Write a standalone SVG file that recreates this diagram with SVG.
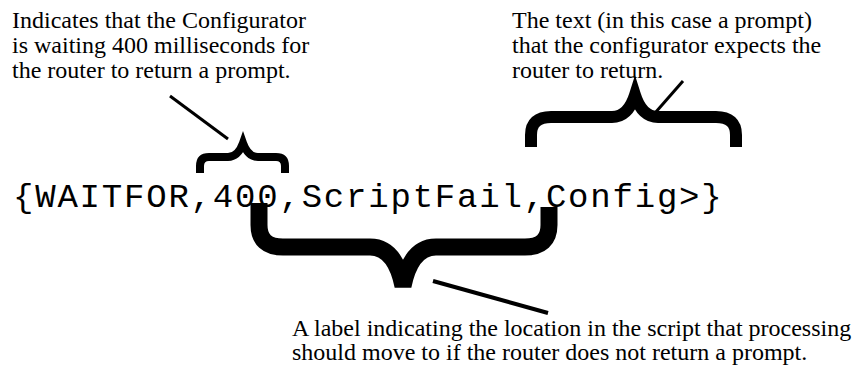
<svg xmlns="http://www.w3.org/2000/svg" width="854" height="375" viewBox="0 0 854 375">
<style>
.note{font-family:"Liberation Serif","Times New Roman",serif;font-size:24px;fill:#000}
.code{font-family:"Liberation Mono","Courier New",monospace;font-size:34px;letter-spacing:1.8px;fill:#000}
.brace{fill:none;stroke:#000;stroke-miterlimit:10;stroke-linecap:butt}
.lead{stroke:#000;fill:none}
</style>
<rect width="854" height="375" fill="#fff"/>
<g id="code">
<text class="code" x="13" y="207">{WAITFOR,400,ScriptFail,Config&gt;}</text>
</g>
<g id="note-wait">
<text class="note" x="12" y="28">Indicates that the Configurator</text>
<text class="note" x="12" y="53">is waiting 400 milliseconds for</text>
<text class="note" x="12" y="78">the router to return a prompt.</text>
</g>
<g id="note-text">
<text class="note" x="512" y="28">The text (in this case a prompt)</text>
<text class="note" x="512" y="53">that the configurator expects the</text>
<text class="note" x="512" y="78">router to return.</text>
</g>
<g id="note-label">
<text class="note" x="292" y="336">A label indicating the location in the script that processing</text>
<text class="note" x="292" y="360">should move to if the router does not return a prompt.</text>
</g>
<g id="brace-400">
<path class="brace" stroke-linejoin="miter" stroke-width="8" d="M200,173 V166 Q200,157 209,157 H228 Q238,157 243,143 Q248,157 258,157 H276 Q285,157 285,166 V173"/>
</g>
<g id="brace-config">
<path class="brace" stroke-linejoin="miter" stroke-width="12" d="M531,147 V135 Q531,117 551,117 H612 Q628,117 635,95 Q642,117 658,117 H716 Q736,117 736,135 V147"/>
</g>
<g id="brace-scriptfail">
<path class="brace" stroke-linejoin="bevel" stroke-width="17" d="M259,203 V225 Q259,247 283,247 H370 Q395,247 403,286 Q411,247 436,247 H525 Q549,247 549,225 V207"/>
</g>
<g id="connectors">
<line class="lead" stroke-width="3" x1="170" y1="96" x2="228" y2="139"/>
<line class="lead" stroke-width="3" x1="683" y1="81" x2="655" y2="113"/>
<line class="lead" stroke-width="4" x1="433" y1="281" x2="548" y2="313"/>
</g>
</svg>
